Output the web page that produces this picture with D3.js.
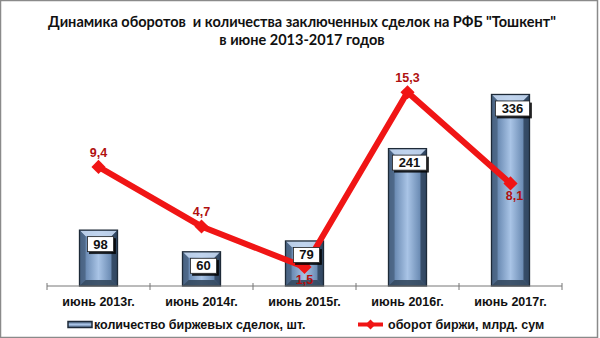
<!DOCTYPE html>
<html>
<head>
<meta charset="utf-8">
<script src="https://cdn.jsdelivr.net/npm/d3@7"></script>
<style>
  body { margin: 0; background: #fff; }
  svg { display: block; font-family: Arial, "Liberation Sans", sans-serif; }
</style>
</head>
<body>
<svg id="chart" width="600" height="338"></svg>
<script>
const periods = ['июнь 2013г.', 'июнь 2014г.', 'июнь 2015г.', 'июнь 2016г.', 'июнь 2017г.']
const deals = [98, 60, 79, 241, 336]
const turnover = [9.4, 4.7, 1.5, 15.3, 8.1]
const turnoverLabels = ['9,4', '4,7', '1,5', '15,3', '8,1']
// where the red label sits relative to its point: -1 above, 1 below
const labelSide = [-1, -1, 1, -1, 1]

const width = 600, height = 338
const margin = { top: 58, right: 38, bottom: 52, left: 47 }
const baseY = height - margin.bottom

const svg = d3.select('#chart')

// frame
svg.append('rect')
  .attr('x', 0.5).attr('y', 0.5)
  .attr('width', width - 3).attr('height', height - 1)
  .attr('fill', 'none').attr('stroke', '#8a8a8a').attr('stroke-width', 1.5)

// title
const title = svg.append('text')
  .attr('text-anchor', 'middle')
  .attr('font-family', 'Lato, "Open Sans", sans-serif')
  .attr('font-weight', 'bold').attr('font-size', 14.5).attr('fill', '#111')
title.append('tspan').attr('x', 302).attr('y', 27)
  .text('Динамика оборотов \u00a0и количества заключенных сделок на РФБ "Тошкент"')
title.append('tspan').attr('x', 302).attr('y', 45)
  .text('в июне 2013-2017 годов')

const xScale = d3.scaleBand()
  .domain(periods)
  .range([margin.left, width - margin.right])

const yBars = d3.scaleLinear().domain([0, 400]).range([baseY, margin.top])
const yLine = d3.scaleLinear().domain([0, 18]).range([baseY, margin.top])

const barW = 38
const cx = (d) => xScale(d) + xScale.bandwidth() / 2

// gradients
const defs = svg.append('defs')
const g1 = defs.append('linearGradient').attr('id', 'barGrad')
  .attr('x1', 0).attr('x2', 1).attr('y1', 0).attr('y2', 0)
g1.append('stop').attr('offset', '0%').attr('stop-color', '#3f5673')
g1.append('stop').attr('offset', '18%').attr('stop-color', '#6d8db5')
g1.append('stop').attr('offset', '50%').attr('stop-color', '#a9c4e6')
g1.append('stop').attr('offset', '82%').attr('stop-color', '#6d8db5')
g1.append('stop').attr('offset', '100%').attr('stop-color', '#3f5673')

const legGrad = defs.append('linearGradient').attr('id', 'legGrad')
  .attr('x1', 0).attr('x2', 0).attr('y1', 0).attr('y2', 1)
legGrad.append('stop').attr('offset', '0%').attr('stop-color', '#4b6585')
legGrad.append('stop').attr('offset', '50%').attr('stop-color', '#a9c4e6')
legGrad.append('stop').attr('offset', '100%').attr('stop-color', '#4b6585')

const shadow = defs.append('filter').attr('id', 'boxShadow')
  .attr('x', '-20%').attr('y', '-20%').attr('width', '160%').attr('height', '160%')
shadow.append('feDropShadow').attr('dx', 2).attr('dy', 2)
  .attr('stdDeviation', 0.6).attr('flood-color', '#000').attr('flood-opacity', 0.85)

// bars
const bars = svg.append('g')
periods.forEach((p, i) => {
  const x0 = cx(p) - barW / 2
  const x1 = x0 + barW
  const y0 = yBars(deals[i])
  const bev = 6
  const g = bars.append('g')
  g.append('rect')
    .attr('x', x0).attr('y', y0)
    .attr('width', barW).attr('height', baseY - y0)
    .attr('fill', 'url(#barGrad)')
  // top bevel
  g.append('polygon')
    .attr('points', [[x0, y0], [x1, y0], [x1 - bev, y0 + bev], [x0 + bev, y0 + bev]].join(' '))
    .attr('fill', '#c3d6ee').attr('opacity', 0.9)
  // left bevel
  g.append('polygon')
    .attr('points', [[x0, y0], [x0 + bev, y0 + bev], [x0 + bev, baseY - bev], [x0, baseY]].join(' '))
    .attr('fill', '#4b6585').attr('opacity', 0.85)
  // right bevel
  g.append('polygon')
    .attr('points', [[x1, y0], [x1 - bev, y0 + bev], [x1 - bev, baseY - bev], [x1, baseY]].join(' '))
    .attr('fill', '#2f445e').attr('opacity', 0.85)
  // bottom bevel
  g.append('polygon')
    .attr('points', [[x0, baseY], [x1, baseY], [x1 - bev, baseY - bev], [x0 + bev, baseY - bev]].join(' '))
    .attr('fill', '#34495f').attr('opacity', 0.9)
  g.append('rect')
    .attr('x', x0).attr('y', y0)
    .attr('width', barW).attr('height', baseY - y0)
    .attr('fill', 'none').attr('stroke', '#1e2a38').attr('stroke-width', 1.3)
})

// x axis
const xAxisG = svg.append('g')
  .attr('transform', `translate(0, ${baseY})`)
xAxisG.append('line')
  .attr('x1', margin.left).attr('x2', width - margin.right)
  .attr('stroke', '#777').attr('stroke-width', 1)
const tickPos = periods.map((p) => xScale(p)).concat([width - margin.right])
xAxisG.selectAll('.tk').data(tickPos).enter().append('line')
  .attr('x1', (d) => d).attr('x2', (d) => d)
  .attr('y1', -3).attr('y2', 4)
  .attr('stroke', '#777')
xAxisG.selectAll('.lbl').data(periods).enter().append('text')
  .attr('x', (d) => cx(d)).attr('y', 19.5)
  .attr('text-anchor', 'middle')
  .attr('font-size', 12.5).attr('font-weight', 'bold').attr('fill', '#111')
  .text((d) => d)

// red line
const lineGen = d3.line()
  .x((d, i) => cx(periods[i]))
  .y((d) => yLine(d))
svg.append('path')
  .datum(turnover)
  .attr('d', lineGen)
  .attr('fill', 'none').attr('stroke', '#f01515')
  .attr('stroke-width', 6).attr('stroke-linejoin', 'miter')

svg.selectAll('.mk').data(turnover).enter().append('rect')
  .attr('x', -5).attr('y', -5).attr('width', 10).attr('height', 10)
  .attr('transform', (d, i) => `translate(${cx(periods[i])}, ${yLine(d)}) rotate(45)`)
  .attr('fill', '#f01515')

svg.selectAll('.tl').data(turnover).enter().append('text')
  .attr('x', (d, i) => cx(periods[i]) + (i === 4 ? 4 : 0))
  .attr('y', (d, i) => yLine(d) + (labelSide[i] < 0 ? -10 : 17))
  .attr('text-anchor', 'middle')
  .attr('font-size', 12.5).attr('font-weight', 'bold').attr('fill', '#b01010')
  .text((d, i) => turnoverLabels[i])

// bar value boxes (drawn above the line, like the original)
periods.forEach((p, i) => {
  const bx = cx(p) + 2
  const by = yBars(deals[i]) + 14
  const txt = String(deals[i])
  const bw = txt.length * 8 + 10
  svg.append('rect')
    .attr('x', bx - bw / 2).attr('y', by - 7.5)
    .attr('width', bw).attr('height', 15)
    .attr('fill', '#fff').attr('stroke', '#222').attr('stroke-width', 0.8)
    .attr('filter', 'url(#boxShadow)')
  svg.append('text')
    .attr('x', bx).attr('y', by + 4.5)
    .attr('text-anchor', 'middle')
    .attr('font-size', 13).attr('font-weight', 'bold').attr('fill', '#111')
    .text(txt)
})

// legend
const leg = svg.append('g').attr('transform', 'translate(0, 324.5)')
leg.append('rect')
  .attr('x', 68).attr('y', -3).attr('width', 24).attr('height', 6)
  .attr('fill', 'url(#legGrad)').attr('stroke', '#1e2a38').attr('stroke-width', 1.5)
leg.append('text')
  .attr('x', 94).attr('y', 4.5)
  .attr('font-size', 12.5).attr('font-weight', 'bold').attr('fill', '#111')
  .text('количество биржевых сделок, шт.')
leg.append('line')
  .attr('x1', 358).attr('x2', 383).attr('y1', 0).attr('y2', 0)
  .attr('stroke', '#f01515').attr('stroke-width', 4)
leg.append('rect')
  .attr('x', -3.5).attr('y', -3.5).attr('width', 7).attr('height', 7)
  .attr('transform', 'translate(370.5, 0) rotate(45)')
  .attr('fill', '#f01515')
leg.append('text')
  .attr('x', 388).attr('y', 4.5)
  .attr('font-size', 12.5).attr('font-weight', 'bold').attr('fill', '#111')
  .text('оборот биржи, млрд. сум')
</script>
</body>
</html>
